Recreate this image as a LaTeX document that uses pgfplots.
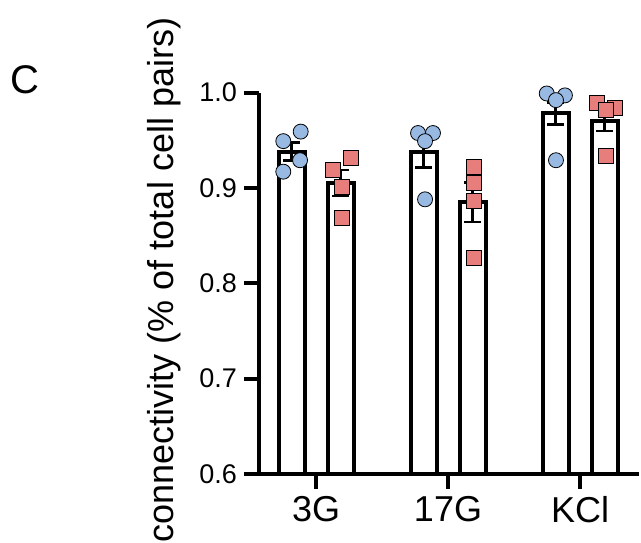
\documentclass[border=0pt]{standalone}
\usepackage{fontspec}
\setmainfont{Liberation Sans}
\usepackage{pgfplots}
\pgfplotsset{compat=1.18}
\definecolor{ptblue}{RGB}{152,185,226}
\definecolor{ptred}{RGB}{232,126,124}
\begin{document}
\begin{tikzpicture}
\useasboundingbox (0,0) rectangle (320.5pt,271pt);
\node[anchor=base west, font=\fontsize{20}{22}\selectfont, inner sep=0pt] at (5pt,224.5pt) {C};
\begin{axis}[
  at={(129.5pt,34pt)}, anchor=south west,
  scale only axis, width=190pt, height=190.75pt,
  xmin=-0.432, xmax=2.447, ymin=0.6, ymax=1.0,
  axis x line=bottom, axis y line=left,
  axis line style={-, line width=2pt, black},
  xtick={0,1,2}, xticklabels={3G,17G,KCl},
  ytick={0.6,0.7,0.8,0.9,1.0},
  yticklabel style={font=\fontsize{13.5}{16}\selectfont, /pgf/number format/fixed, /pgf/number format/fixed zerofill, /pgf/number format/precision=1, /pgf/number format/assume math mode=true},
  xticklabel style={font=\fontsize{18}{20}\selectfont},
  tick align=outside, major tick length=7.5pt,
  tick style={line width=2pt, black},
  every axis y label/.style={at={(axis description cs:-0.226,0.5085)}, anchor=base, rotate=90},
  ylabel={connectivity (\% of total cell pairs)},
  label style={font=\fontsize{18}{20}\selectfont},
]
% bars
\addplot[ybar, bar width=13pt, bar shift=-12.25pt, draw=black, fill=white, line width=2pt]
  coordinates {(0,0.938) (1,0.938) (2,0.978)};
\addplot[ybar, bar width=13pt, bar shift=12.25pt, draw=black, fill=white, line width=2pt]
  coordinates {(0,0.905) (1,0.885) (2,0.9705)};
% error bars (SEM), at the bar centres
\addplot[mark=none, draw=none,
  error bars/.cd, y dir=both, y explicit,
  error bar style={draw=black, line width=1.25pt},
  error mark options={draw=black, line width=1.25pt, mark size=4.2pt, rotate=90}]
  coordinates {(-0.186,0.938) +- (0,0.0095) (0.814,0.938) +- (0,0.0168) (1.814,0.978) +- (0,0.0115)};
\addplot[mark=none, draw=none,
  error bars/.cd, y dir=both, y explicit,
  error bar style={draw=black, line width=1.25pt},
  error mark options={draw=black, line width=1.25pt, mark size=4.2pt, rotate=90}]
  coordinates {(0.186,0.905) +- (0,0.0135) (1.186,0.885) +- (0,0.0207) (2.186,0.9705) +- (0,0.011)};
% individual points
\addplot[only marks, mark=*, mark size=3.75pt, mark options={draw=none, fill=ptblue}]
  coordinates {(-0.116,0.959) (-0.248,0.949) (-0.121,0.929) (-0.248,0.917)
               (0.773,0.9575) (0.886,0.9575) (0.826,0.949) (0.826,0.888)
               (1.748,0.999) (1.886,0.997) (1.818,0.992) (1.818,0.929)};
\addplot[only marks, mark=square*, mark size=3.75pt, mark options={draw=none, fill=ptred}]
  coordinates {(0.263,0.931) (0.127,0.919) (0.195,0.901) (0.195,0.869)
               (1.197,0.922) (1.197,0.905) (1.197,0.886) (1.197,0.827)
               (2.127,0.9886) (2.265,0.984) (2.197,0.9815) (2.197,0.934)};
\end{axis}
\end{tikzpicture}
\end{document}
